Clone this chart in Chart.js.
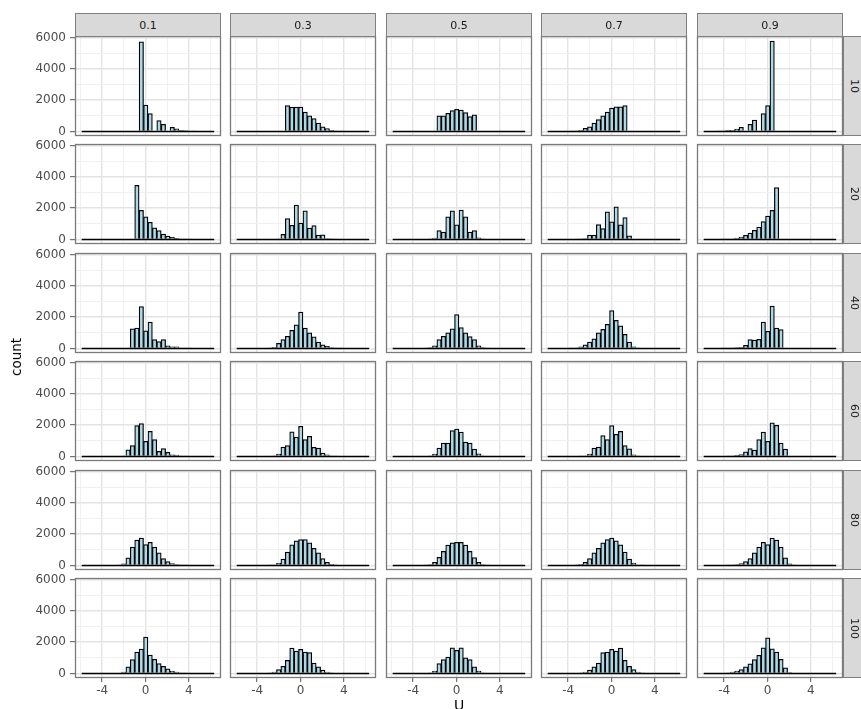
<!DOCTYPE html>
<html>
<head>
<meta charset="utf-8">
<script src="https://cdn.jsdelivr.net/npm/chart.js@4.4.1/dist/chart.umd.min.js"></script>
<style>
  html, body { margin: 0; padding: 0; background: #fff; }
  #fig { position: relative; width: 861px; height: 709px; overflow: hidden; background: #fff;
         font-family: "DejaVu Sans", "Liberation Sans", sans-serif; }
  #fig canvas { position: absolute; }
  .strip { position: absolute; box-sizing: border-box; background: #d9d9d9; border: 1px solid #7f7f7f;
           color: #1a1a1a; font-size: 11px; display: flex; align-items: center; justify-content: center; }
  .strip.side { writing-mode: vertical-rl; }
  .axis-title { position: absolute; color: #000; white-space: nowrap; }
</style>
</head>
<body>
<div id="fig"></div>
<script>
// Histogram of U, faceted by p (columns) and n (rows); 30 shared bins.
const binCenters = [-5.686, -5.278, -4.870, -4.462, -4.054, -3.646, -3.238, -2.830, -2.422, -2.014,
                    -1.606, -1.198, -0.790, -0.382, 0.026, 0.434, 0.842, 1.250, 1.658, 2.066,
                    2.474, 2.882, 3.290, 3.698, 4.106, 4.514, 4.922, 5.330, 5.738, 6.146];

const pLabels = ['0.1', '0.3', '0.5', '0.7', '0.9'];
const nLabels = ['10', '20', '40', '60', '80', '100'];

// counts per bin
const n10_p01 = [0,0,0,0,0,0,0,0,0,0,0,0,0,5730,1680,1140,0,700,460,0,270,160,70,60,25,10,0,0,0,0];
const n10_p03 = [0,0,0,0,0,0,0,0,0,0,0,1660,1560,1560,1550,1240,990,820,530,300,190,80,20,5,0,0,0,0,0,0];
const n10_p05 = [0,0,0,0,0,0,0,0,0,0,990,1000,1150,1330,1420,1360,1200,950,1060,0,0,0,0,0,0,0,0,0,0,0];
const n10_p07 = [0,0,0,0,0,5,20,80,200,300,530,760,990,1240,1500,1580,1580,1660,0,0,0,0,0,0,0,0,0,0,0,0];
const n10_p09 = [0,0,0,10,30,70,80,150,270,0,460,720,0,1140,1650,5770,0,0,0,0,0,0,0,0,0,0,0,0,0,0];

const n20_p01 = [0,0,0,0,0,0,0,0,0,0,0,0,3450,1860,1440,1100,740,570,340,210,130,65,30,15,5,0,0,0,0,0];
const n20_p03 = [0,0,0,0,0,0,0,0,0,30,320,1330,910,2200,1040,1820,720,890,275,300,60,30,10,0,0,0,0,0,0,0];
const n20_p05 = [0,0,0,0,0,0,0,0,20,90,570,465,1440,1820,930,1880,1440,465,570,105,20,0,0,0,0,0,0,0,0,0];
const n20_p07 = [0,0,0,0,0,0,5,15,60,280,280,950,690,1760,1120,2080,930,1400,230,0,0,0,0,0,0,0,0,0,0,0];
const n20_p09 = [0,0,0,0,5,15,35,85,150,270,400,590,790,1140,1500,1860,3320,0,0,0,0,0,0,0,0,0,0,0,0,0];

const n40_p01 = [0,0,0,0,0,0,0,0,0,0,0,1260,1300,2670,1120,1680,570,440,570,170,100,100,25,10,5,0,0,0,0,0];
const n40_p03 = [0,0,0,0,0,0,0,20,80,320,570,780,1160,1515,2320,1300,990,740,400,230,130,60,25,10,0,0,0,0,0,0];
const n40_p05 = [0,0,0,0,0,0,0,15,60,170,570,780,1000,1260,2170,1330,1000,760,570,170,60,15,0,0,0,0,0,0,0,0];
const n40_p07 = [0,0,0,0,0,5,20,100,230,400,610,990,1220,1540,2420,1790,1450,900,400,100,20,0,0,0,0,0,0,0,0,0];
const n40_p09 = [0,0,0,0,5,10,20,60,80,200,570,530,590,1680,1100,2700,1300,1200,0,0,0,0,0,0,0,0,0,0,0,0];

const n60_p01 = [0,0,0,0,0,0,0,0,0,30,430,690,1970,2100,960,1600,1070,320,510,260,110,85,30,10,0,0,0,0,0,0];
const n60_p03 = [0,0,0,0,0,0,0,0,45,150,600,700,1580,1240,1930,1070,1280,580,540,210,110,40,15,0,0,0,0,0,0,0];
const n60_p05 = [0,0,0,0,0,0,0,0,40,150,535,860,860,1650,1750,1560,920,860,470,170,40,0,0,0,0,0,0,0,0,0];
const n60_p07 = [0,0,0,0,0,0,0,15,40,150,540,600,1330,1080,1970,1420,1600,690,480,110,30,0,0,0,0,0,0,0,0,0];
const n60_p09 = [0,0,0,0,0,10,30,70,120,300,510,410,1070,1560,960,2140,1990,850,470,0,0,0,0,0,0,0,0,0,0,0];

const n80_p01 = [0,0,0,0,0,0,0,0,20,100,480,1170,1620,1750,1330,1480,1170,810,440,250,120,60,20,10,0,0,0,0,0,0];
const n80_p03 = [0,0,0,0,0,0,0,10,40,150,400,850,1310,1580,1650,1650,1440,1100,810,440,200,80,30,0,0,0,0,0,0,0];
const n80_p05 = [0,0,0,0,0,0,0,15,60,200,520,900,1300,1450,1480,1470,1300,900,500,200,60,15,0,0,0,0,0,0,0,0];
const n80_p07 = [0,0,0,0,0,0,30,80,200,440,810,1100,1440,1650,1750,1580,1310,850,400,150,40,10,0,0,0,0,0,0,0,0];
const n80_p09 = [0,0,0,0,0,10,20,60,120,250,440,810,1170,1480,1330,1750,1620,1170,480,100,20,0,0,0,0,0,0,0,0,0];

const n100_p01 = [0,0,0,0,0,0,0,0,0,84,420,884,1370,1560,2320,1180,905,630,460,295,150,85,40,15,0,0,0,0,0,0];
const n100_p03 = [0,0,0,0,0,0,0,30,85,250,460,840,1620,1430,1540,1370,1330,670,420,210,85,40,0,0,0,0,0,0,0,0];
const n100_p05 = [0,0,0,0,0,0,0,0,40,150,630,880,1050,1640,1470,1640,990,880,420,150,40,0,0,0,0,0,0,0,0,0];
const n100_p07 = [0,0,0,0,0,0,0,40,85,210,420,670,1330,1370,1540,1430,1620,840,460,250,85,30,0,0,0,0,0,0,0,0];
const n100_p09 = [0,0,0,0,0,40,85,150,250,420,610,880,1160,1640,2270,1580,1370,900,360,60,0,0,0,0,0,0,0,0,0,0];

// axis breaks
const xMajor = [-4, 0, 4];
const xMinor = [-6, -2, 2, 6];
const xTickLabels = ['-4', '0', '4'];
const yMajor = [0, 2000, 4000, 6000];
const yMinor = [1000, 3000, 5000];
const yTickLabels = ['0', '2000', '4000', '6000'];

// panel grid of count arrays: rows = n, columns = p
const panels = [
  [n10_p01, n10_p03, n10_p05, n10_p07, n10_p09],
  [n20_p01, n20_p03, n20_p05, n20_p07, n20_p09],
  [n40_p01, n40_p03, n40_p05, n40_p07, n40_p09],
  [n60_p01, n60_p03, n60_p05, n60_p07, n60_p09],
  [n80_p01, n80_p03, n80_p05, n80_p07, n80_p09],
  [n100_p01, n100_p03, n100_p05, n100_p07, n100_p09]
];

// layout (px)
const FIG_W = 861, FIG_H = 709;
const colLeft = [75, 230, 386, 541, 697];
const rowTop = [36, 144, 253, 361, 470, 578];
const panelW = 146, panelH = 100;
const stripTop = 13, stripH = 24, sideStripW = 23;
const X_RANGE = [-6.51, 6.98];
const Y_RANGE = [-290, 6095];

const FONT = '"DejaVu Sans", "Liberation Sans", sans-serif';
const GRID_MAJOR = '#e4e4e4', GRID_MINOR = '#eeeeee';
const TICK_COL = '#555555', LABEL_COL = '#4d4d4d', FRAME_COL = '#7a7a7a';

const fig = document.getElementById('fig');

const xGrid = [...xMinor, ...xMajor].sort((a, b) => a - b);
const yGrid = [...yMinor, ...yMajor].sort((a, b) => a - b);
const halfBin = (binCenters[1] - binCenters[0]) / 2;
const baseline = [binCenters[0] - halfBin, binCenters[binCenters.length - 1] + halfBin];

const panelFrame = {
  id: 'panelFrame',
  afterDraw(chart) {
    const a = chart.chartArea, ctx = chart.ctx;
    ctx.save();
    ctx.strokeStyle = FRAME_COL;
    ctx.lineWidth = 1.3;
    ctx.strokeRect(a.left + 0.5, a.top + 0.5, a.right - a.left - 1, a.bottom - a.top - 1);
    ctx.restore();
  }
};

function makePanel(r, c) {
  const pad = 8;
  const left = c === 0 ? 0 : colLeft[c] - pad;
  const top = rowTop[r] - pad;
  const right = colLeft[c] + panelW + pad;
  const w = right - left;
  const lastRow = r === nLabels.length - 1;
  const h = lastRow ? FIG_H - top : panelH + 2 * pad;
  const xAxisH = lastRow ? h - pad - panelH : 0;

  const canvas = document.createElement('canvas');
  canvas.width = w; canvas.height = h;
  canvas.style.left = left + 'px'; canvas.style.top = top + 'px';
  canvas.style.width = w + 'px'; canvas.style.height = h + 'px';
  fig.appendChild(canvas);

  const vals = panels[r][c];

  new Chart(canvas, {
    type: 'bar',
    data: {
      datasets: [
        {
          type: 'bar',
          data: binCenters.map((x, k) => ({ x: x, y: vals[k] })),
          backgroundColor: '#add8e6',
          borderColor: '#000000',
          borderWidth: 1.25,
          barPercentage: 1,
          categoryPercentage: 1,
          order: 1
        },
        {
          type: 'line',
          data: [{ x: baseline[0], y: 0 }, { x: baseline[1], y: 0 }],
          borderColor: '#000000',
          borderWidth: 1.5,
          pointRadius: 0,
          order: 0
        }
      ]
    },
    options: {
      responsive: false,
      animation: false,
      devicePixelRatio: 1,
      layout: { padding: { left: c === 0 ? 0 : pad, right: pad, top: pad, bottom: lastRow ? 0 : pad } },
      plugins: { legend: { display: false }, tooltip: { enabled: false }, title: { display: false } },
      events: [],
      scales: {
        x: {
          type: 'linear',
          min: X_RANGE[0], max: X_RANGE[1],
          offset: false,
          afterBuildTicks: s => { s.ticks = xGrid.map(v => ({ value: v })); },
          afterFit: s => { s.height = xAxisH; s.paddingLeft = 0; s.paddingRight = 0; },
          ticks: {
            display: lastRow, autoSkip: false, maxRotation: 0, minRotation: 0, padding: 2,
            color: LABEL_COL, font: { family: FONT, size: 12 },
            callback: v => { const i = xMajor.indexOf(v); return i >= 0 ? xTickLabels[i] : ''; }
          },
          grid: {
            offset: false,
            drawTicks: lastRow, tickLength: 4, tickWidth: 1,
            color: ctx => xMajor.includes(ctx.tick.value) ? GRID_MAJOR : GRID_MINOR,
            lineWidth: ctx => xMajor.includes(ctx.tick.value) ? 1.4 : 0.9,
            tickColor: ctx => xMajor.includes(ctx.tick.value) ? TICK_COL : 'rgba(0,0,0,0)'
          },
          border: { display: false }
        },
        y: {
          type: 'linear',
          min: Y_RANGE[0], max: Y_RANGE[1],
          afterBuildTicks: s => { s.ticks = yGrid.map(v => ({ value: v })); },
          afterFit: s => { s.width = c === 0 ? colLeft[0] : 0; s.paddingTop = 0; s.paddingBottom = 0; },
          ticks: {
            display: c === 0, autoSkip: false, padding: 4,
            color: LABEL_COL, font: { family: FONT, size: 12 },
            callback: v => { const i = yMajor.indexOf(v); return i >= 0 ? yTickLabels[i] : ''; }
          },
          grid: {
            drawTicks: c === 0, tickLength: 5, tickWidth: 1,
            color: ctx => yMajor.includes(ctx.tick.value) ? GRID_MAJOR : GRID_MINOR,
            lineWidth: ctx => yMajor.includes(ctx.tick.value) ? 1.4 : 0.9,
            tickColor: ctx => yMajor.includes(ctx.tick.value) ? TICK_COL : 'rgba(0,0,0,0)'
          },
          border: { display: false }
        }
      }
    },
    plugins: [panelFrame]
  });
}

for (let r = 0; r < nLabels.length; r++) {
  for (let c = 0; c < pLabels.length; c++) makePanel(r, c);
}

// facet strips
pLabels.forEach((lab, c) => {
  const d = document.createElement('div');
  d.className = 'strip';
  d.style.left = colLeft[c] + 'px'; d.style.top = stripTop + 'px';
  d.style.width = panelW + 'px'; d.style.height = stripH + 'px';
  d.textContent = lab;
  fig.appendChild(d);
});
nLabels.forEach((lab, r) => {
  const d = document.createElement('div');
  d.className = 'strip side';
  d.style.left = (colLeft[4] + panelW) + 'px'; d.style.top = rowTop[r] + 'px';
  d.style.width = sideStripW + 'px'; d.style.height = panelH + 'px';
  d.textContent = lab;
  fig.appendChild(d);
});

// axis titles
const yTitle = document.createElement('div');
yTitle.className = 'axis-title';
yTitle.textContent = 'count';
yTitle.style.fontSize = '13.5px';
yTitle.style.left = '16px'; yTitle.style.top = '357px';
yTitle.style.transform = 'translate(-50%, -50%) rotate(-90deg)';
fig.appendChild(yTitle);

const xTitle = document.createElement('div');
xTitle.className = 'axis-title';
xTitle.textContent = 'U';
xTitle.style.fontSize = '14px';
xTitle.style.lineHeight = '14px';
xTitle.style.left = '459px'; xTitle.style.top = '698px';
xTitle.style.transform = 'translateX(-50%)';
fig.appendChild(xTitle);
</script>
</body>
</html>
